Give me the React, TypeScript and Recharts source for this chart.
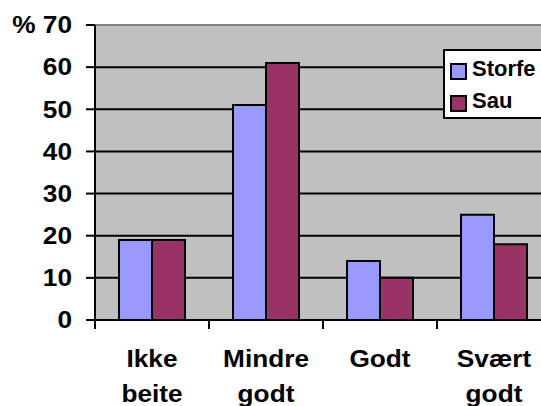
import React from 'react';
import { BarChart, Bar, XAxis, YAxis, CartesianGrid, ReferenceLine } from 'recharts';

const categories = ['Ikke beite', 'Mindre godt', 'Godt', 'Svært godt'];
const storfe = [19, 51, 14, 25];
const sau = [19, 61, 10, 18];
const yTicks = [0, 10, 20, 30, 40, 50, 60, 70];

const data = categories.map((name, i) => ({ name, Storfe: storfe[i], Sau: sau[i] }));

const FONT = '"Liberation Sans", Arial, sans-serif';
const STORFE = '#9999FF';
const SAU = '#993366';
// the original glyphs are a bit stretched sideways
const STRETCH = 1.14;

const series = [
    { key: 'Storfe', color: STORFE },
    { key: 'Sau', color: SAU },
];

const CategoryTick = (props: any) => {
    const { x, y, payload } = props;
    const half = payload.offset ?? 57;
    const lines = String(payload.value).split(' ');
    return (
        <g>
            <line x1={x - half} y1={y} x2={x - half} y2={y + 9} stroke="#000" strokeWidth={2} />
            <text
                transform={`translate(${x},${y + 47}) scale(${STRETCH},1)`}
                textAnchor="middle"
                fill="#000"
                fontSize={23}
                fontWeight="bold"
                fontFamily={FONT}
            >
                {lines.map((l, i) => (
                    <tspan key={i} x={0} dy={i === 0 ? 0 : 35}>{l}</tspan>
                ))}
            </text>
        </g>
    );
};

const ValueTick = (props: any) => {
    const { x, y, payload } = props;
    const label = payload.value === 70 ? '% 70' : String(payload.value);
    return (
        <text
            transform={`translate(${x},${y}) scale(${STRETCH},1)`}
            textAnchor="end"
            dy="0.36em"
            fill="#000"
            fontSize={23}
            fontWeight="bold"
            fontFamily={FONT}
        >
            {label}
        </text>
    );
};

// legend drawn outside the chart so it does not eat plot space
const LegendBox = () => (
    <div
        style={{
            position: 'absolute',
            left: 443,
            top: 49,
            width: 130,
            height: 66,
            background: '#fff',
            border: '2px solid #000',
            paddingLeft: 5,
            fontFamily: FONT,
            fontWeight: 'bold',
            fontSize: 22,
            color: '#000',
        }}
    >
        {series.map((s, i) => (
            <div key={s.key} style={{ display: 'flex', alignItems: 'center', height: 32, marginTop: i === 0 ? 2 : 0 }}>
                <span style={{ width: 13, height: 13, background: s.color, border: '2px solid #000', marginRight: 5, marginTop: 4 }} />
                <span>{s.key}</span>
            </div>
        ))}
    </div>
);

export default function App() {
    return (
        <div style={{ position: 'absolute', left: 0, top: 0, width: 541, height: 406, overflow: 'hidden', background: '#fff' }}>
            <BarChart
                width={560}
                height={406}
                data={data}
                margin={{ top: 25, right: 9, left: 0, bottom: 0 }}
                barCategoryGap={24}
                barGap={0}
            >
                <CartesianGrid
                    vertical={false}
                    fill="#C0C0C0"
                    fillOpacity={1}
                    stroke="#000"
                    strokeWidth={2}
                    horizontalValues={[10, 20, 30, 40, 50, 60]}
                />
                <ReferenceLine y={70} stroke="#808080" strokeWidth={2} />
                <XAxis
                    dataKey="name"
                    interval={0}
                    height={86}
                    tickLine={false}
                    tickSize={0}
                    tickMargin={0}
                    axisLine={{ stroke: '#000', strokeWidth: 2 }}
                    tick={<CategoryTick />}
                />
                <YAxis
                    width={95}
                    domain={[0, 70]}
                    ticks={yTicks}
                    interval={0}
                    tickSize={9}
                    tickMargin={14}
                    axisLine={{ stroke: '#000', strokeWidth: 2 }}
                    tickLine={{ stroke: '#000', strokeWidth: 2 }}
                    tick={<ValueTick />}
                />
                {series.map((s) => (
                    <Bar key={s.key} dataKey={s.key} fill={s.color} stroke="#000" strokeWidth={2} isAnimationActive={false} />
                ))}
            </BarChart>
            <LegendBox />
        </div>
    );
}
